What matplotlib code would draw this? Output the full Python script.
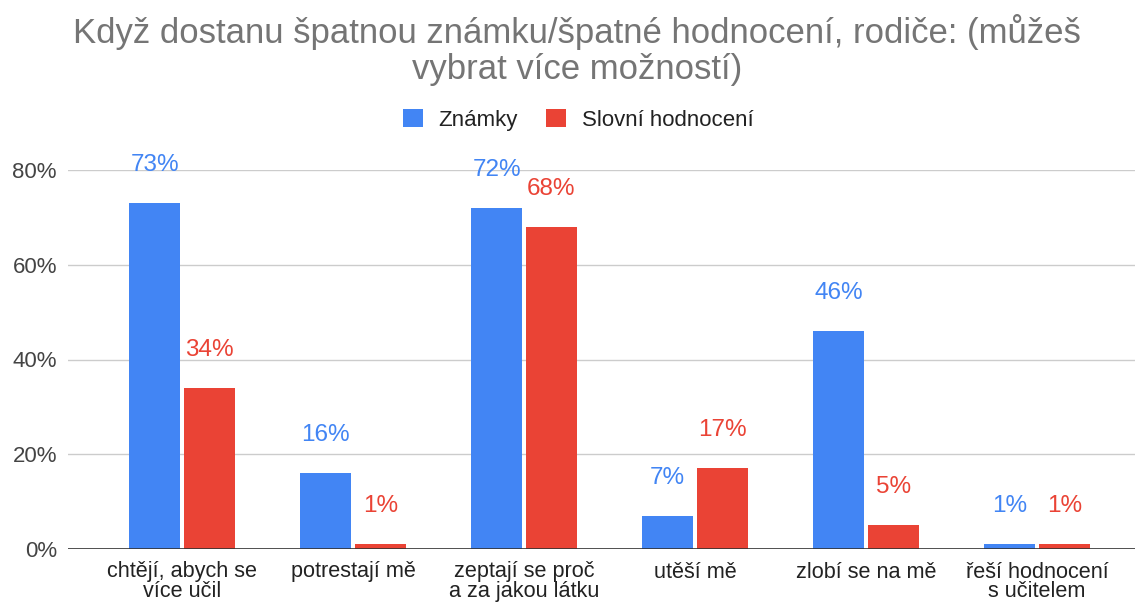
import matplotlib
matplotlib.use("Agg")
import matplotlib.pyplot as plt
import numpy as np
from matplotlib.patches import Patch

categories = ["chtějí, abych se\nvíce učil", "potrestají mě", "zeptají se proč\na za jakou látku",
              "utěší mě", "zlobí se na mě", "řeší hodnocení\ns učitelem"]
znamky = [73, 16, 72, 7, 46, 1]
slovni = [34, 1, 68, 17, 5, 1]
series_names = ["Známky", "Slovní hodnocení"]
yticks = [0, 20, 40, 60, 80]

BLUE = "#4285F4"
RED = "#EA4335"

plt.rcParams['font.family'] = ['Liberation Sans', 'DejaVu Sans']

fig = plt.figure(figsize=(11.43, 6.03), dpi=100)
W, H = 1143, 603
left, right, bottom, top = 68, 1135, 549, 170
ax = fig.add_axes([left / W, 1 - bottom / H, (right - left) / W, (bottom - top) / H])

x = np.arange(len(categories))
bw = 0.295
off = 0.16
b1 = ax.bar(x - off, znamky, bw, color=BLUE, zorder=3)
b2 = ax.bar(x + off, slovni, bw, color=RED, zorder=3)

for bars, vals, c in ((b1, znamky, BLUE), (b2, slovni, RED)):
    for b, v in zip(bars, vals):
        ax.annotate(f"{v}%", (b.get_x() + b.get_width() / 2, v), xytext=(0, 38),
                    textcoords="offset pixels", ha="center", va="center",
                    fontsize=17.5, color=c, clip_on=False)

ax.set_xlim(-0.667, 5.573)
ax.set_ylim(0, 80)
ax.set_yticks(yticks)
ax.set_yticklabels([f"{t}%" for t in yticks], fontsize=16, color="#444444")
ax.set_xticks(x)
ax.set_xticklabels(categories, fontsize=15.6, color="#222222", linespacing=0.92)
ax.tick_params(axis="both", length=0)
ax.tick_params(axis="y", pad=8)
ax.tick_params(axis="x", pad=9)
ax.grid(axis="y", color="#cccccc", linewidth=1, zorder=0)
for s in ax.spines.values():
    s.set_visible(False)
ax.axhline(0, color="#333333", linewidth=1.2, zorder=4)

fig.text(577 / W, 1 - 50 / H, "Když dostanu špatnou známku/špatné hodnocení, rodiče: (můžeš\nvybrat více možností)",
         ha="center", va="center", fontsize=25, color="#757575", linespacing=1.08)

handles = [Patch(facecolor=BLUE), Patch(facecolor=RED)]
fig.legend(handles, series_names, loc="center", bbox_to_anchor=(578 / W, 1 - 120 / H), ncol=2,
           frameon=False, fontsize=16, handlelength=0.9, handleheight=0.9, columnspacing=1.3,
           handletextpad=0.7, labelcolor="#222222")

fig.savefig("out.png", dpi=100)
